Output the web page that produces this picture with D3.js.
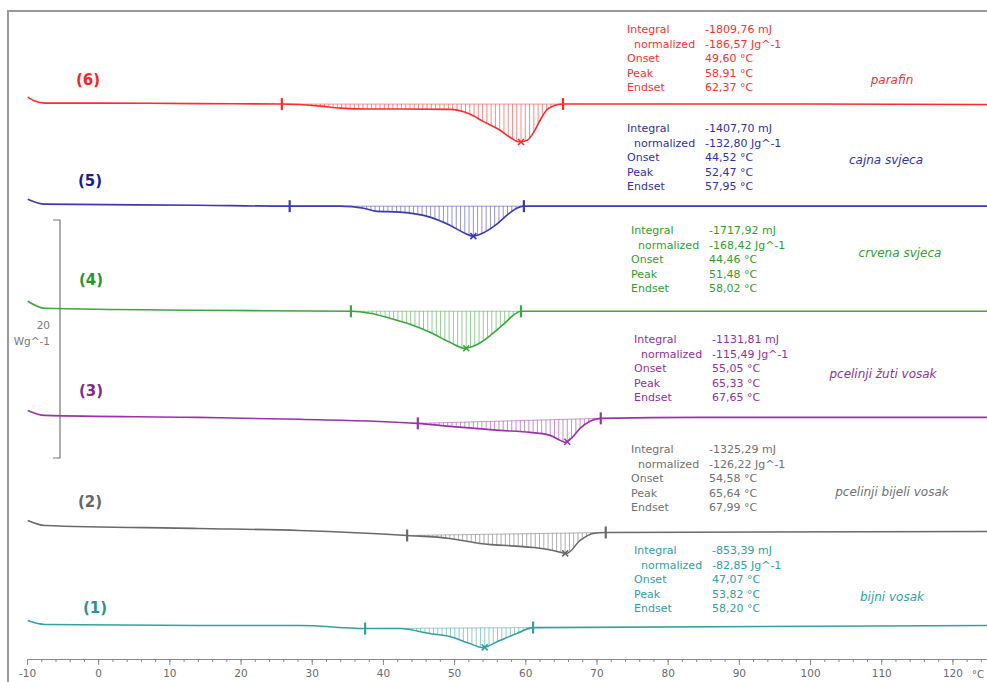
<!DOCTYPE html>
<html>
<head>
<meta charset="utf-8">
<script src="https://cdn.jsdelivr.net/npm/d3@7"></script>
<style>
  body { margin: 0; background: #fff; }
  svg { display: block; }
  text { font-family: "DejaVu Sans", Verdana, sans-serif; }
</style>
</head>
<body>
<div id="chart"></div>
<script>

// ---- data ----
var sampleNums  = ["(6)", "(5)", "(4)", "(3)", "(2)", "(1)"];
var sampleNames = ["parafin", "cajna svjeca", "crvena svjeca", "pcelinji žuti vosak", "pcelinji bijeli vosak", "bijni vosak"];
var integral    = ["-1809,76 mJ", "-1407,70 mJ", "-1717,92 mJ", "-1131,81 mJ", "-1325,29 mJ", "-853,39 mJ"];
var normalized  = ["-186,57 Jg^-1", "-132,80 Jg^-1", "-168,42 Jg^-1", "-115,49 Jg^-1", "-126,22 Jg^-1", "-82,85 Jg^-1"];
var onset       = ["49,60 °C", "44,52 °C", "44,46 °C", "55,05 °C", "54,58 °C", "47,07 °C"];
var peak        = ["58,91 °C", "52,47 °C", "51,48 °C", "65,33 °C", "65,64 °C", "53,82 °C"];
var endset      = ["62,37 °C", "57,95 °C", "58,02 °C", "67,65 °C", "67,99 °C", "58,20 °C"];

// integration limits (°C)
var limitLo = [25.8, 26.9, 35.5, 44.9, 43.4, 37.5];
var limitHi = [65.3, 59.8, 59.4, 70.6, 71.3, 61.1];

// stacking offset of each curve (W/g)
var offsets = [-7.82, -16.40, -25.23, -34.65, -44.07, -51.89];

// curves: temperature (°C) and heat flow relative to offset (W/g)
var t6  = [-9.9, -8.9, -7.5, 0, 14, 25.8, 31.2, 34, 37.8, 42.4, 49.4, 52.2, 54.0, 56.4, 57.8, 59.2, 60.3, 61.1, 62.1, 63.0, 63.9, 65.3, 80, 100, 125];
var hf6 = [0.59, 0.25, 0.08, 0.08, 0.04, 0, -0.17, -0.34, -0.42, -0.42, -0.45, -0.84, -1.43, -2.18, -2.77, -3.19, -3.03, -2.44, -1.34, -0.50, -0.17, 0, 0, 0, -0.04];

var t5  = [-9.9, -7.5, 14, 26.9, 34, 37.3, 38.9, 42.4, 46.6, 49.4, 51.5, 52.6, 54.3, 56.0, 57.6, 58.8, 59.8, 80, 125];
var hf5 = [0.59, 0.17, 0.08, 0, 0, -0.17, -0.42, -0.50, -0.92, -1.60, -2.27, -2.52, -2.18, -1.51, -0.67, -0.17, 0, 0, 0];

var t4  = [-9.9, -7.5, 14, 35.5, 38.2, 41.0, 43.8, 46.6, 49.4, 51.5, 53.3, 55.3, 57.1, 58.5, 59.4, 80, 125];
var hf4 = [0.84, 0.25, 0.08, 0, -0.17, -0.59, -1.09, -1.76, -2.61, -3.11, -2.77, -1.93, -1.01, -0.25, 0, 0, 0];

var t3  = [-9.9, -7.5, 14, 28.3, 44.9, 49.4, 56.4, 60.7, 63.5, 64.9, 65.6, 66.6, 67.7, 69.1, 70.6, 84.5, 125];
var hf3 = [1.09, 0.67, 0.50, 0.34, 0, -0.25, -0.59, -0.76, -1.01, -1.43, -1.60, -1.18, -0.42, 0.17, 0.42, 0.50, 0.50];

var t2  = [-9.9, -7.5, 14, 28.3, 43.4, 49.4, 53.6, 61.1, 63.9, 65.8, 67.7, 69.5, 71.3, 125];
var hf2 = [1.26, 0.84, 0.59, 0.42, 0, -0.25, -0.67, -1.01, -1.26, -1.51, -0.42, 0.17, 0.25, 0.34];

var t1  = [-9.9, -7.5, 14, 28.3, 37.5, 42.4, 46.6, 49.4, 52.2, 54.0, 56.4, 58.8, 61.1, 125];
var hf1 = [0.67, 0.34, 0.25, 0.25, 0, 0, -0.42, -0.67, -1.26, -1.60, -1.01, -0.42, 0.08, 0.25];

var curveT  = [t6, t5, t4, t3, t2, t1];
var curveHF = [hf6, hf5, hf4, hf3, hf2, hf1];

var majorTicks = d3.range(-10, 121, 10);
var minorTicks = d3.range(-10, 125, 2);

// scale bar: 20 W/g, top at this level
var scaleBarTop = -17.56;
var scaleBarSize = 20;

// ---- styles / layout ----
var colors     = ["#ff2a2a", "#3a3ab8", "#3aa83a", "#9a32aa", "#6a6a6a", "#35a0a0"];
var textColors = ["#ff3030", "#3030a8", "#30a030", "#9030a0", "#707070", "#30a0a0"];
var numColors  = ["#ff2020", "#1c1c96", "#2a952a", "#86288f", "#666666", "#2a9494"];
var numPos   = [[88, 80], [90, 181], [91, 280], [91, 391], [90, 502], [95, 608]];
var blockPos = [[627, 29], [627, 128], [631, 230], [634, 339], [631, 449], [634, 550]];
var namePos  = [[892, 80], [886, 160], [900, 253], [883, 374], [892, 492], [892, 597]];

var W = 987, H = 682;
var svg = d3.select("#chart").append("svg")
  .attr("width", W)
  .attr("height", H);

var x = d3.scaleLinear().domain([-10, 125]).range([27, 988]);
var y = d3.scaleLinear().domain([-54.45, 0]).range([659, 11]);

// frame
svg.append("path")
  .attr("d", "M8," + H + "V11H" + W)
  .attr("fill", "none")
  .attr("stroke", "#9a9a9a")
  .attr("stroke-width", 2);

// x axis: minor then major ticks
svg.append("g")
  .attr("transform", "translate(0,659)")
  .call(d3.axisBottom(x).tickValues(minorTicks).tickSize(3).tickSizeOuter(0).tickFormat(""))
  .call(function(g) {
    g.select(".domain").attr("stroke", "#8a8a8a");
    g.selectAll(".tick line").attr("stroke", "#8a8a8a");
  });

svg.append("g")
  .attr("transform", "translate(0,659)")
  .call(d3.axisBottom(x).tickValues(majorTicks).tickSize(6).tickSizeOuter(0).tickPadding(5)
    .tickFormat(function(d) { return String(d); }))
  .call(function(g) {
    g.select(".domain").remove();
    g.selectAll(".tick line").attr("stroke", "#8a8a8a");
    g.selectAll(".tick text").attr("fill", "#6a6a6a").style("font-size", "10.5px")
      .style("font-family", "'DejaVu Sans', sans-serif");
  });

svg.append("text")
  .attr("x", x(123.6))
  .attr("y", 678)
  .attr("text-anchor", "middle")
  .attr("fill", "#6a6a6a")
  .style("font-size", "10.5px")
  .text("°C");

// scale bar 20 W/g
var sb0 = y(scaleBarTop), sb1 = y(scaleBarTop - scaleBarSize);
svg.append("path")
  .attr("d", "M53," + sb0 + "H60V" + sb1 + "H53")
  .attr("fill", "none")
  .attr("stroke", "#777")
  .attr("stroke-width", 1.2);
svg.append("text").attr("x", 50).attr("y", 329).attr("text-anchor", "end")
  .attr("fill", "#777").style("font-size", "10.5px").text(String(scaleBarSize));
svg.append("text").attr("x", 50).attr("y", 345).attr("text-anchor", "end")
  .attr("fill", "#777").style("font-size", "10.5px").text("Wg^-1");

var line = d3.line()
  .x(function(d) { return x(d[0]); })
  .y(function(d) { return y(d[1]); })
  .curve(d3.curveMonotoneX);

curveT.forEach(function(ts, i) {
  var pts = ts.map(function(t, j) { return [t, offsets[i] + curveHF[i][j]]; });
  var g = svg.append("g");
  var hatch = g.append("g");
  var path = g.append("path")
    .attr("d", line(pts))
    .attr("fill", "none")
    .attr("stroke", colors[i])
    .attr("stroke-width", 1.6);

  var node = path.node();
  var total = node.getTotalLength();
  function yAt(px) {
    var lo = 0, hi = total, p;
    for (var k = 0; k < 30; k++) {
      var mid = (lo + hi) / 2;
      p = node.getPointAtLength(mid);
      if (p.x < px) lo = mid; else hi = mid;
    }
    return p.y;
  }

  var x1 = x(limitLo[i]), x2 = x(limitHi[i]);
  var y1 = yAt(x1), y2 = yAt(x2);
  var best = null;
  for (var t = limitLo[i] + 0.6; t < limitHi[i]; t += 0.6) {
    var px = x(t);
    var cy = yAt(px);
    var by = y1 + (y2 - y1) * (px - x1) / (x2 - x1);
    if (cy - by > 0.8) {
      hatch.append("line")
        .attr("x1", px).attr("x2", px)
        .attr("y1", by).attr("y2", cy)
        .attr("stroke", colors[i])
        .attr("stroke-opacity", 0.55)
        .attr("stroke-width", 1);
    }
    if (!best || cy - by > best[2]) best = [px, cy, cy - by];
  }

  // baseline between limits
  hatch.append("line")
    .attr("x1", x1).attr("x2", x2).attr("y1", y1).attr("y2", y2)
    .attr("stroke", colors[i]).attr("stroke-opacity", 0.5).attr("stroke-width", 1);

  // integration limit marks
  [[x1, y1], [x2, y2]].forEach(function(m) {
    g.append("line")
      .attr("x1", m[0]).attr("x2", m[0])
      .attr("y1", m[1] - 6).attr("y2", m[1] + 6)
      .attr("stroke", colors[i])
      .attr("stroke-width", 2.2);
  });

  // peak cross
  if (best) {
    var s = 3;
    g.append("path")
      .attr("d", "M" + (best[0] - s) + "," + (best[1] - s) + "L" + (best[0] + s) + "," + (best[1] + s) +
                 "M" + (best[0] + s) + "," + (best[1] - s) + "L" + (best[0] - s) + "," + (best[1] + s))
      .attr("stroke", colors[i])
      .attr("stroke-width", 1.6);
  }

  // curve number
  svg.append("text")
    .attr("x", numPos[i][0]).attr("y", numPos[i][1] + 5)
    .attr("text-anchor", "middle")
    .attr("fill", numColors[i])
    .style("font-size", "15px")
    .style("font-weight", "bold")
    .text(sampleNums[i]);

  // result block
  var bx = blockPos[i][0], by0 = blockPos[i][1] + 4;
  var rows = [["Integral", integral[i], 0], ["normalized", normalized[i], 7],
              ["Onset", onset[i], 0], ["Peak", peak[i], 0], ["Endset", endset[i], 0]];
  rows.forEach(function(r, k) {
    svg.append("text").attr("x", bx + r[2]).attr("y", by0 + k * 14.5)
      .attr("fill", textColors[i]).style("font-size", "11px").text(r[0]);
    svg.append("text").attr("x", bx + 78).attr("y", by0 + k * 14.5)
      .attr("fill", textColors[i]).style("font-size", "11px").text(r[1]);
  });

  svg.append("text")
    .attr("x", namePos[i][0]).attr("y", namePos[i][1] + 4)
    .attr("text-anchor", "middle")
    .attr("fill", textColors[i])
    .style("font-size", "12px")
    .style("font-style", "italic")
    .text(sampleNames[i]);
});

</script>
</body>
</html>
